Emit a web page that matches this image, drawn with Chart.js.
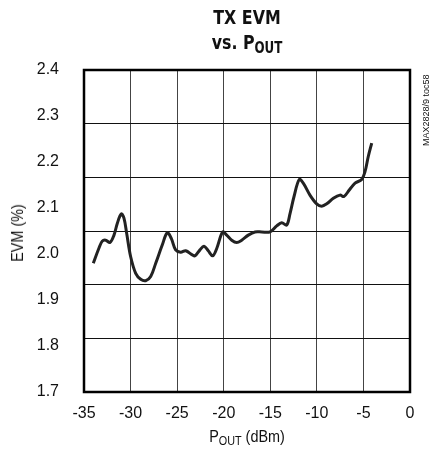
<!DOCTYPE html>
<html>
<head>
<meta charset="utf-8">
<script src="https://cdn.jsdelivr.net/npm/chart.js@4"></script>
<style>
  body { margin: 0; background: #fff; }
  #wrap { position: relative; width: 435px; height: 454px; font-family: "Liberation Sans", Arial, sans-serif; color: #111; }
  canvas { position: absolute; left: 0; top: 0; }
  .t { position: absolute; white-space: nowrap; }
  .title { left: 247px; transform: translateX(-50%) scaleX(0.88); font-family: "DejaVu Sans Condensed", sans-serif; font-weight: bold; font-size: 20px; line-height: 23px; }
  sub { font-size: 0.75em; vertical-align: -0.25em; }
</style>
</head>
<body>
<div id="wrap">
  <canvas id="c" width="435" height="454"></canvas>
  <div class="t title" style="top:6px">TX EVM</div>
  <div class="t title" style="top:31px">vs. P<sub>OUT</sub></div>
  <div class="t" style="left:247px;top:428px;transform:translateX(-50%) scaleX(0.9);font-size:16px">P<sub>OUT</sub> (dBm)</div>
  <div class="t" style="left:18px;top:233px;transform:translate(-50%,-50%) rotate(-90deg) scaleX(0.9);font-size:16px">EVM (%)</div>
  <div class="t" style="left:421px;top:146px;transform-origin:0 0;transform:rotate(-90deg);font-size:9px">MAX2828/9 toc58</div>
</div>
<script>
const pout = [-34.0, -33.39, -33.04, -32.67, -32.21, -31.78, -31.42, -31.0, -30.71, -30.42,
  -29.99, -29.45, -28.91, -28.38, -27.84, -27.3, -26.59, -26.06, -25.63, -25.16,
  -24.62, -24.08, -23.37, -23.08, -22.55, -22.12, -21.66, -21.18, -20.75, -20.11,
  -19.68, -19.14, -18.61, -18.07, -17.36, -16.64, -15.92, -15.03, -14.31, -13.77,
  -13.24, -12.88, -12.45, -11.89, -11.46, -10.74, -10.02, -9.48, -8.94, -8.23,
  -7.52, -7.09, -6.52, -5.9, -5.19, -4.83, -4.48, -4.11]
const evm = [1.980, 2.013, 2.028, 2.030, 2.025, 2.041, 2.067, 2.087, 2.078, 2.045,
  1.994, 1.958, 1.945, 1.942, 1.951, 1.980, 2.020, 2.046, 2.034, 2.009,
  2.004, 2.007, 1.998, 1.996, 2.009, 2.017, 2.007, 1.996, 2.012, 2.048,
  2.041, 2.030, 2.025, 2.030, 2.041, 2.048, 2.048, 2.048, 2.061, 2.068,
  2.063, 2.088, 2.125, 2.162, 2.154, 2.128, 2.109, 2.104, 2.109, 2.121,
  2.128, 2.125, 2.139, 2.154, 2.162, 2.179, 2.212, 2.241]

const tickFont = { family: '"Liberation Sans", Arial, sans-serif', size: 16 }

const frame = {
  id: "frame",
  afterDraw(chart) {
    const { ctx, chartArea: a } = chart
    ctx.save()
    ctx.strokeStyle = "#000"
    ctx.lineWidth = 2.5
    ctx.strokeRect(a.left, a.top, a.right - a.left, a.bottom - a.top)
    ctx.restore()
  }
}

new Chart(document.getElementById("c"), {
  type: "line",
  data: {
    datasets: [{
      data: pout.map((x, i) => ({ x, y: evm[i] })),
      borderColor: "#222",
      borderWidth: 3,
      pointRadius: 0,
      tension: 0.35,
      fill: false
    }]
  },
  options: {
    responsive: false,
    animation: false,
    layout: { padding: { top: 70, right: 25, left: 0, bottom: 0 } },
    plugins: { legend: { display: false }, tooltip: { enabled: false } },
    scales: {
      x: {
        type: "linear", min: -35, max: 0,
        ticks: { stepSize: 5, color: "#111", font: tickFont, padding: 12, maxRotation: 0 },
        grid: { color: "#444", lineWidth: 1, drawTicks: false },
        border: { display: false },
        afterFit: s => { s.height = 62 }
      },
      y: {
        min: 1.7, max: 2.4,
        ticks: { stepSize: 0.1, color: "#111", font: tickFont, padding: 17, callback: v => v.toFixed(1) },
        grid: { display: false },
        border: { display: false },
        afterFit: s => { s.width = 84 }
      },
      yGrid: {
        position: "right", min: 0, max: 6,
        ticks: { display: false, stepSize: 1 },
        grid: { color: "#111", lineWidth: 1, drawTicks: false },
        border: { display: false },
        afterFit: s => { s.width = 0 }
      }
    }
  },
  plugins: [frame]
})
</script>
</body>
</html>
